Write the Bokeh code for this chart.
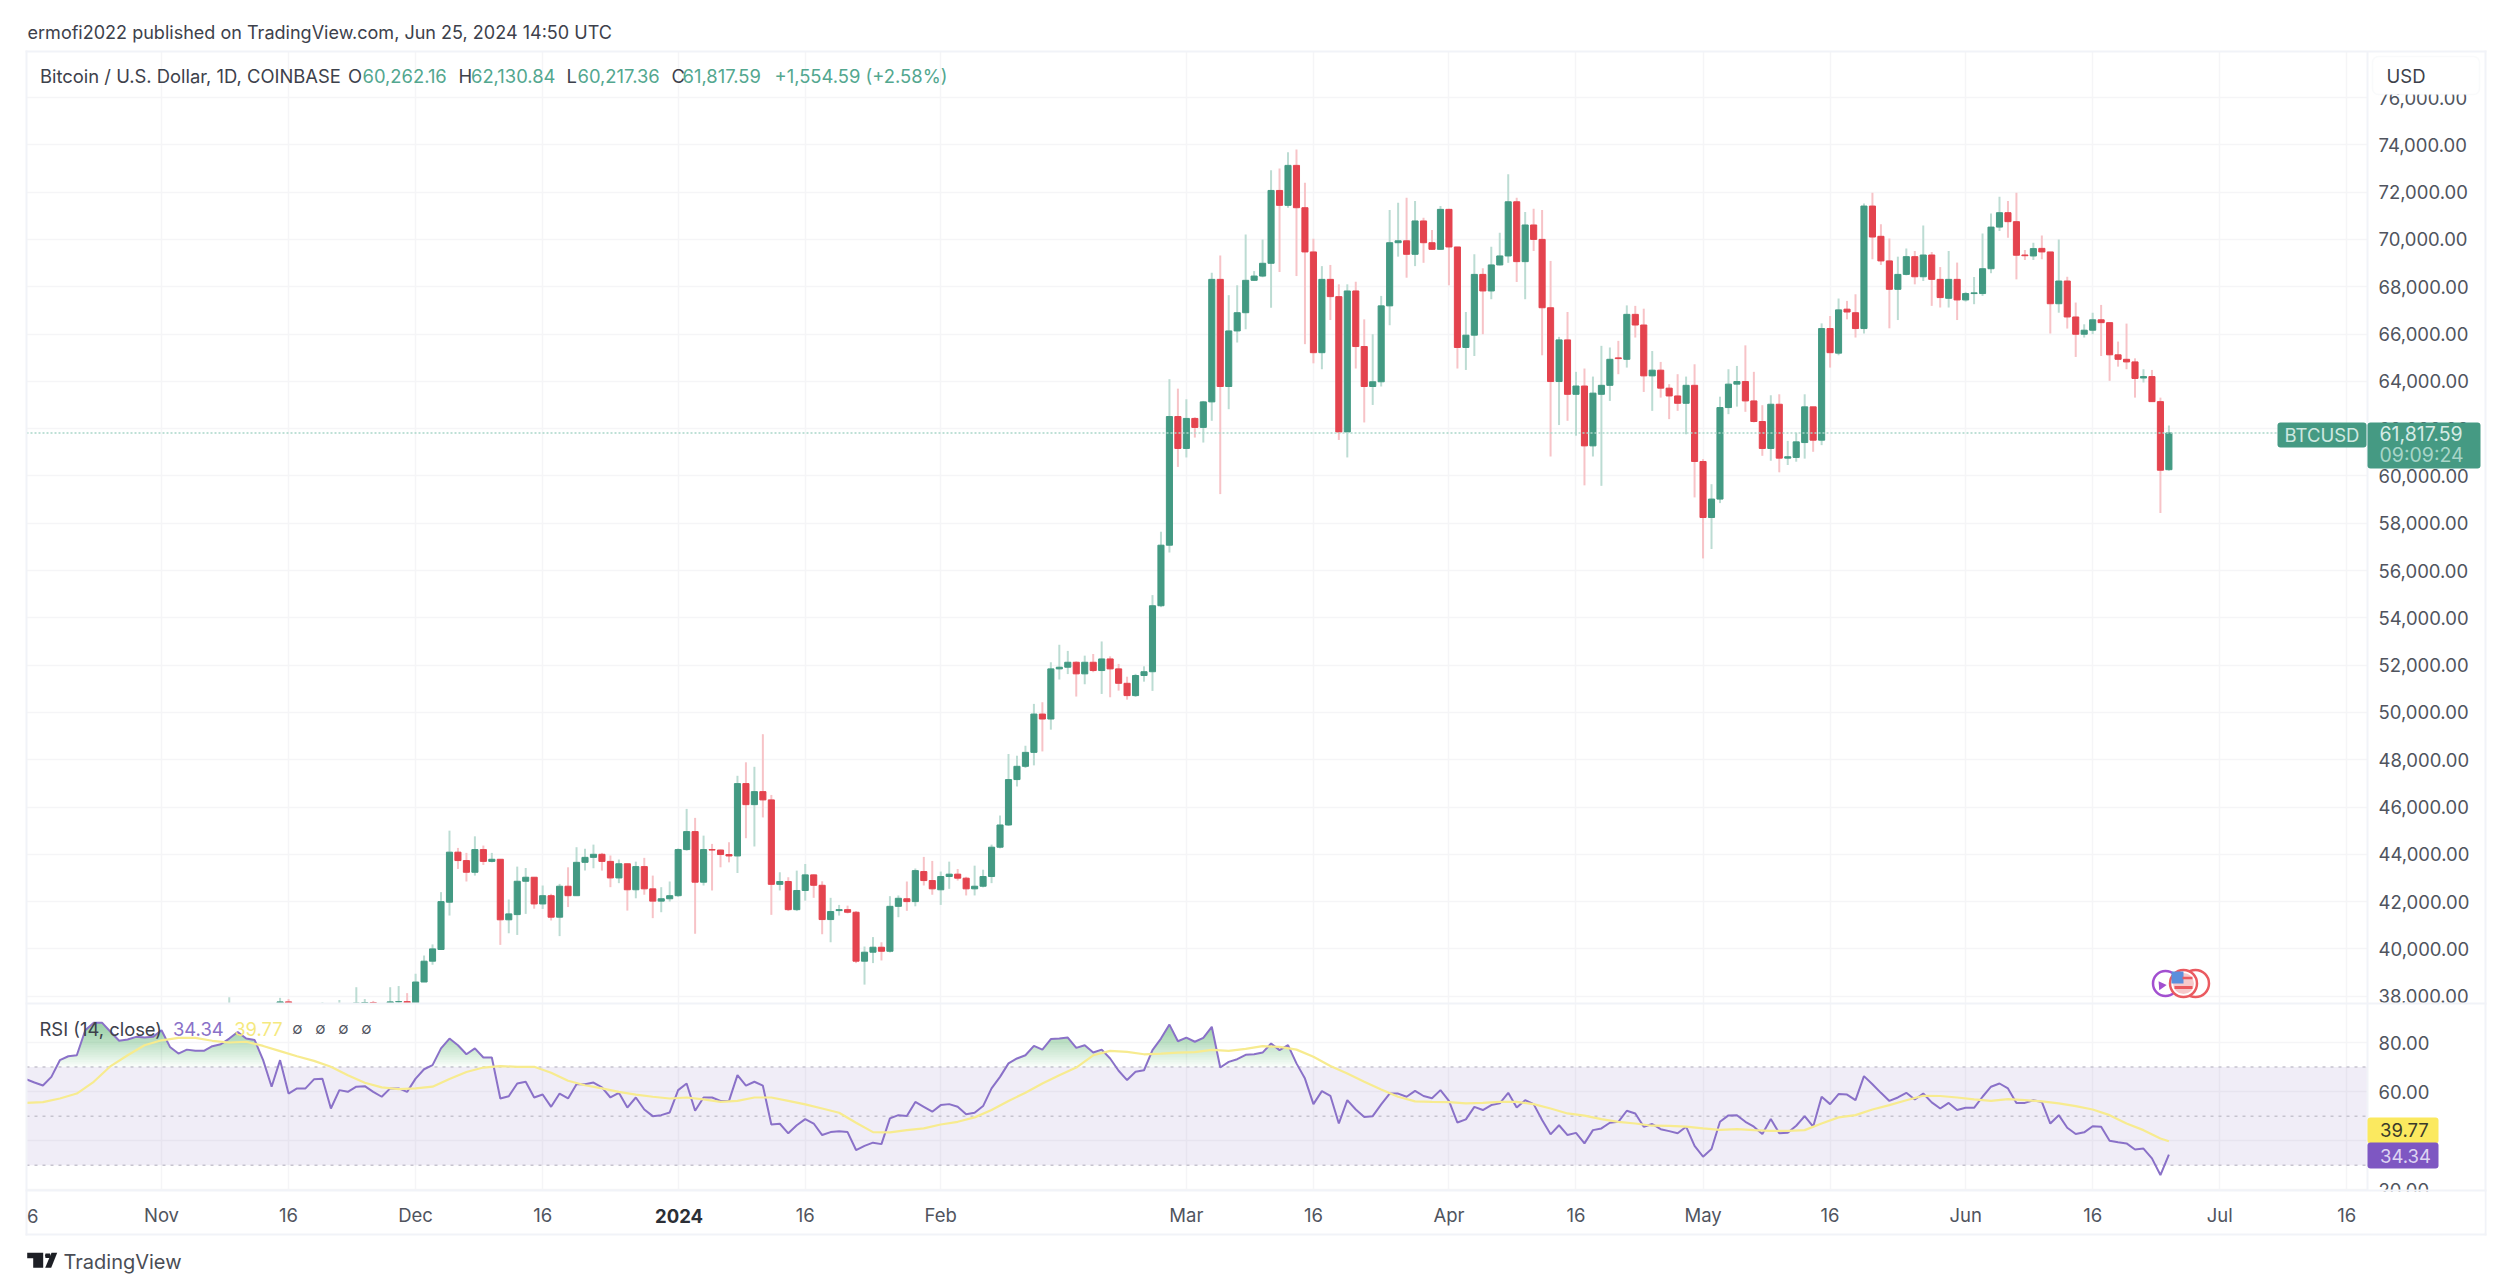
import numpy as np
import pandas as pd
from bokeh.plotting import figure
from bokeh.layouts import column
from bokeh.models import (Range1d, FixedTicker, BoxAnnotation, Label, PolyAnnotation,
                          ColumnDataSource)
from bokeh.embed import file_html
from bokeh.resources import INLINE

# ---------- data ----------
candle_start = "2023-11-09"
nov_o = [35650,36700,37310,37140,37070,36470,35550,37760,36160,36590,36580,37370,37470,35800,37420,37290,37690,37730,37450,37240,37760,37770]
nov_c = [36700,37310,37140,37070,36470,35550,37760,36160,36590,36580,37370,37470,35800,37420,37290,37710,37730,37450,37240,37760,37770,37720]
nov_h = [37960,37520,37400,37230,37400,36750,37930,37880,36800,36830,37500,37740,37640,37840,37650,38380,37880,37800,37600,38380,38430,38130]
nov_l = [35600,36350,36780,36750,36330,35100,35370,35900,35880,36150,36400,36700,35700,35650,36870,37260,37600,37150,36700,36870,37600,37500]

dec_o = [37720,38600,39480,39975,41975,44090,43735,43240,44200,43700,43790,41230,41450,42860,43030,41900,42250,41340,42650,42250,43660,43870,44000,43700,43000,43600,42500,43480,42540,42020,42120]
dec_c = [38600,39480,40000,42000,44090,43735,43240,44200,43700,43790,41230,41480,42860,43030,41900,42250,41340,42650,42250,43660,43870,44000,43700,43000,43600,42500,43480,42540,42020,42120,42250]
dec_h = [38950,39720,40190,42400,45000,44270,44060,44760,44370,44060,43790,42090,43480,43420,43030,42680,42330,42750,43450,44300,44230,44410,44060,43950,43780,43600,43690,43850,43100,42610,42850]
dec_l = [37500,38600,39330,39975,41410,43380,42850,43100,43550,43660,40170,40660,40590,41480,41700,41690,41200,40540,41770,42250,43310,43410,43310,42610,42780,41620,42140,42290,41300,41550,42000]

jan_o = [42250,44200,44960,42820,44200,44180,43990,43930,46990,46100,46650,46300,42730,42850,41660,42470,43130,42690,41240,41620,41660,41550,39480,39860,40070,39900,41800,42120,42000,43270,42890]
jan_c = [44200,44960,42820,44200,44180,43990,43930,46990,46100,46650,46300,42730,42850,41660,42470,43130,42690,41240,41580,41660,41550,39480,39860,40070,39900,41800,42140,42000,43310,42890,42540]
jan_h = [44250,45920,45540,44790,44440,44200,44510,47320,47890,47700,49080,46510,43240,43030,43310,43590,43150,42860,42160,41860,41830,41600,40100,40500,40280,42230,42260,42850,43400,43890,43720]
jan_l = [42200,44150,40640,42680,42470,43450,43660,43210,44680,44330,45560,41440,42470,41600,41600,42040,42160,40620,40280,41410,41500,39400,38490,39400,39510,39850,41340,41610,41800,42680,42290]

feb_o = [42500,43060,43160,42990,42540,42650,43060,44300,45240,47160,47720,48310,49930,49720,51840,51910,52120,51630,52120,51770,52260,51840,51230,50710,51560,51720,54510,57070,62510]
feb_c = [43060,43160,42990,42540,42650,43060,44300,45240,47160,47720,48310,49930,49720,51840,51910,52120,51630,52120,51770,52260,51840,51230,50710,51560,51720,54510,57070,62510,61160]
feb_h = [43270,43690,43380,43050,43520,43350,44410,45640,48240,48170,48590,50360,50430,52120,52860,52600,52160,52400,52470,53000,52370,52050,51510,51630,51950,54960,57640,64090,63690]
feb_l = [41860,42540,42890,42260,42260,42600,42780,44250,45200,46870,47650,47760,48350,49270,51390,51620,50670,51190,51700,50780,50640,50920,50540,50650,51300,50910,54450,56760,60380]

mar_o = [61160,62430,62050,63130,68310,63780,66130,66900,68270,68450,68990,72070,71440,73130,71340,69470,65210,68310,67580,61860,67820,65470,63780,63980,67190,69860,69940,69370,70780,69860,69580]
mar_c = [62430,62050,63130,68310,63780,66130,66900,68270,68450,68990,72070,71440,73130,71340,69470,65210,68310,67580,61860,67820,65470,63780,63980,67190,69860,69940,69370,70780,69860,69580,71270]
mar_h = [63240,62480,63170,68590,69320,67640,68060,70210,68660,70000,72920,73000,73690,73800,72400,70030,68870,68920,68100,68100,68210,66620,65990,67610,71240,71550,71760,71620,70920,70400,71410]
mar_l = [60780,61620,61410,62330,59230,62820,65640,66200,68240,68400,67110,68620,71340,68450,65570,64760,64510,66590,61520,60780,64540,62260,63000,63780,66370,69270,68380,68870,69010,69550,69550]

apr_o = [71270,69680,65430,65950,68520,67820,68920,69300,71590,69060,70610,70000,67110,63990,65750,63450,63800,61270,63450,63830,64990,64930,66830,66380,64230,64470,63710,63380,63070,63830]
apr_c = [69680,65430,65950,68520,67820,68920,69300,71590,69060,70610,70000,67110,63990,65750,63450,63800,61270,63500,63830,64930,64960,66830,66380,64230,64470,63710,63380,63070,63830,60610]
apr_h = [71300,69680,66930,69370,68780,69690,70280,72760,71760,71160,71300,71240,69090,65880,66930,64400,64540,64200,65500,65430,65710,67210,67190,67070,65280,64820,63880,64300,64200,64720]
apr_l = [68060,64540,64480,65070,65990,67470,68900,69010,68200,67470,69510,65100,60820,62150,62330,61700,59600,60820,59580,63170,64300,64580,65850,63550,62750,63310,62400,62750,61760,59090]

may_o = [60610,58240,59020,62890,63880,63990,63170,62300,61160,63030,60750,60780,61410,62920,61510,66230,65190,67050,66900,66230,71410,70130,69090,67890,68520,69270,68420,69340,68310,67510,68310]
may_c = [58240,59020,62890,63880,63990,63170,62300,61160,63030,60750,60810,61440,62920,61510,66230,65210,67020,66930,66230,71410,70100,69090,67890,68520,69270,68420,69340,68310,67540,68310,67440]
may_h = [60710,59650,63350,64510,64650,65520,64400,62990,63410,63450,61480,61830,63450,62920,66450,66760,67500,67400,67680,71520,71970,70640,70040,69270,69610,69510,70590,69470,68830,69510,69020]
may_l = [56510,56910,58850,62610,62930,62710,62260,60850,60640,60150,60460,60600,60730,61020,61300,64580,65100,66620,65850,66020,69160,68920,66240,66590,68480,68100,68240,67190,67120,67120,66590]

jun_o = [67440,67710,67710,68760,70520,71130,70750,69340,69300,69620,69470,67280,68240,66720,65990,66160,66600,66480,65120,64930,64820,64140,64200,63140,60262.16]
jun_c = [67710,67740,68760,70520,71130,70750,69330,69310,69610,69470,67280,68240,66720,65990,66160,66600,66480,65120,64930,64820,64120,64200,63140,60240,61817.59]
jun_h = [67780,68410,70250,71100,71800,71620,71970,69550,69860,70170,69470,70000,68420,67330,66410,66900,67230,66480,65680,66440,64970,64510,64480,63310,62130.84]
jun_l = [67370,67260,67610,68570,70350,70070,68310,69130,69130,69160,66020,66900,66230,65030,65850,65990,65070,64020,64620,64510,63310,63950,63140,58430,60217.36]

rsi_start = "2023-10-16"
rsi_values = [
65.1,63.7,62.5,66.0,72.8,74.4,74.8,85.0,88.0,88.0,84.3,80.7,81.2,82.3,82.0,82.3,
85.0,78.2,75.5,77.1,76.6,76.6,78.5,79.3,81.6,84.3,81.6,81.0,72.8,62.0,72.8,59.2,61.3,61.3,65.0,65.2,53.1,60.6,59.9,62.0,62.2,59.9,57.9,61.3,61.3,59.9,
65.3,69.1,70.8,77.6,81.6,78.9,75.2,77.6,73.9,73.9,57.2,58.1,63.3,64.0,57.6,58.8,53.8,59.2,57.2,63.0,63.0,63.7,61.7,57.6,59.5,53.5,57.6,52.7,50.0,50.4,51.5,
60.6,63.3,52.2,57.6,57.6,56.2,56.2,66.7,62.4,64.0,62.4,46.6,46.9,43.0,46.3,
48.8,47.0,42.3,43.5,43.8,43.5,36.2,37.9,39.2,38.6,49.1,50.4,50.1,55.8,53.8,51.8,
54.5,54.9,53.8,50.8,51.4,54.1,61.3,66.0,71.5,73.5,74.8,78.6,77.1,81.4,81.6,82.0,77.8,78.9,75.9,77.1,73.5,68.5,64.7,68.1,68.7,76.9,81.6,87.3,
80.5,82.0,80.3,81.9,86.4,69.8,72.1,73.2,75.0,75.2,75.9,79.6,76.9,78.9,71.5,65.3,54.9,60.2,58.3,47.0,56.5,52.7,49.7,50.0,54.8,59.2,59.2,57.9,60.3,58.2,57.3,
60.6,56.2,47.4,48.7,53.8,52.5,54.5,55.2,59.5,53.5,56.5,54.9,48.4,42.6,46.3,42.3,43.2,38.9,44.3,
45.0,47.3,47.7,52.2,51.1,45.7,46.8,44.7,43.9,43.0,45.7,
37.9,33.5,36.6,47.7,50.3,50.4,47.7,45.7,42.7,48.8,43.0,43.2,46.1,50.0,45.7,57.9,54.9,59.0,58.8,56.5,66.3,63.0,59.5,56.2,57.6,59.5,56.8,59.2,55.6,53.1,55.4,
52.5,53.4,53.4,57.9,62.0,63.3,61.3,55.4,55.4,56.5,55.8,47.0,50.4,45.3,42.7,43.4,45.9,45.7,40.0,39.4,38.9,36.4,36.8,32.8,26.0,34.34]

# RSI moving average, read every second day from the start date, plus the final day
ma_values = [
55.4,55.7,57.2,59.2,64.0,70.4,74.8,78.9,80.9,81.9,81.9,80.7,80.0,80.3,78.6,76.5,74.4,72.5,70.1,66.7,63.6,61.7,61.0,61.3,62.0,65.1,68.0,69.8,70.4,70.1,70.1,
67.7,64.4,62.6,61.3,59.9,58.8,57.9,57.2,57.6,56.8,55.8,56.2,57.6,57.6,56.2,
54.8,53.1,51.4,47.3,43.5,43.4,44.3,45.0,46.6,47.7,49.5,52.5,56.2,59.5,63.3,66.7,69.8,74.8,76.6,76.2,75.2,75.5,75.9,76.1,77.0,76.6,77.4,78.5,78.2,77.1,74.2,70.4,
67.4,64.0,60.9,57.9,56.0,55.8,55.7,55.2,55.4,55.8,55.8,54.9,53.1,51.1,50.2,48.8,47.7,47.0,46.1,46.0,45.7,45.0,44.4,44.7,44.3,44.0,44.0,44.3,47.0,49.5,50.4,
52.7,54.5,56.5,58.3,58.2,57.6,56.8,56.2,56.9,56.5,56.0,55.2,54.1,52.7,50.4,47.0,44.3,40.9,39.77]

price_ticks = [38000,40000,42000,44000,46000,48000,50000,52000,54000,56000,58000,60000,62000,64000,66000,68000,70000,72000,74000,76000]
rsi_ticks = [20,40,60,80]
rsi_levels = [70,50,30]
date_ticks = ["2023-11-01","2023-11-16","2023-12-01","2023-12-16","2024-01-01","2024-01-16","2024-02-01",
              "2024-03-01","2024-03-16","2024-04-01","2024-04-16","2024-05-01","2024-05-16","2024-06-01",
              "2024-06-16","2024-07-01","2024-07-16"]
date_labels = ["Nov","16","Dec","16","2024","16","Feb","Mar","16","Apr","16","May","16","Jun","16","Jul","16"]

last_close = 61817.59
rsi_last, ma_last = 34.34, 39.77

opens = nov_o+dec_o+jan_o+feb_o+mar_o+apr_o+may_o+jun_o
closes = nov_c+dec_c+jan_c+feb_c+mar_c+apr_c+may_c+jun_c
highs = nov_h+dec_h+jan_h+feb_h+mar_h+apr_h+may_h+jun_h
lows = nov_l+dec_l+jan_l+feb_l+mar_l+apr_l+may_l+jun_l
assert len(opens) == len(closes) == len(highs) == len(lows) == 230
assert len(rsi_values) == 254
assert len(ma_values) == 128

# ---------- styling ----------
FONT = "Inter"
GREEN, RED = "#439a83", "#e4434e"
GREEN_WICK, RED_WICK = "#bcdcd3", "#f7c3c7"
GRID = "#f5f5f7"
BORDER = "#f1f3f8"
TXT = "#50545e"
DARK = "#3d414b"
GTXT = "#53a78f"
PURPLE, YELLOW = "#8a71c8", "#f7eb8f"

# page-pixel geometry of the panes
PAGE_W, PAGE_H = 2500, 1280
LEFT, RIGHT = 26, 2367
TOP, SPLIT, BOT = 51, 1003, 1190
EDGE = 2485
PX_PER_DAY = 8.47
X0_PX = 161              # page x of 1 Nov 2023
P_PX = 2000/47.3         # dollars per pixel
def price_at(py): return 74000 - (py-144.3)*P_PX
RSI_PX = 20/49.1         # rsi units per pixel
def rsi_at(py): return 80 - (py-1042)*RSI_PX

origin = pd.Timestamp("2023-11-01")
def day(d): return (pd.Timestamp(d)-origin).days
def day_at(px): return (px-X0_PX)/PX_PER_DAY

x_range = Range1d(day_at(LEFT), day_at(RIGHT))
xticks = [day(d) for d in date_ticks]

def axis_style(ax):
    ax.axis_line_color = None
    ax.major_tick_line_color = None
    ax.minor_tick_line_color = None
    ax.major_label_text_font = FONT
    ax.major_label_text_color = TXT
    ax.major_label_text_font_size = "18.5px"

# ---------- price pane ----------
p = figure(width=PAGE_W, height=SPLIT, x_range=x_range,
           y_range=Range1d(price_at(SPLIT), price_at(TOP)),
           x_axis_location=None, y_axis_location="right", frame_align=False,
           min_border_left=LEFT, min_border_right=PAGE_W-RIGHT, min_border_top=TOP, min_border_bottom=0,
           toolbar_location=None, output_backend="svg", outline_line_color=None,
           background_fill_color="white", border_fill_color="white")
axis_style(p.yaxis[0])
p.yaxis[0].ticker = FixedTicker(ticks=price_ticks)
p.yaxis[0].major_label_overrides = {t: f"{t:,.2f}" for t in price_ticks}
p.yaxis[0].major_label_standoff = 5
p.ygrid[0].grid_line_color = GRID
p.ygrid[0].grid_line_width = 1.5
p.xgrid[0].ticker = FixedTicker(ticks=xticks)
p.xgrid[0].grid_line_color = GRID
p.xgrid[0].grid_line_width = 1.5

cd = pd.date_range(candle_start, periods=len(opens))
cx = np.array([(d-origin).days for d in cd])
o, c = np.array(opens, float), np.array(closes, float)
up = c >= o
src = ColumnDataSource(dict(x=cx, o=o, c=c, h=highs, l=lows,
                            col=[GREEN if u else RED for u in up],
                            wick=[GREEN_WICK if u else RED_WICK for u in up]))
p.segment("x", "l", "x", "h", source=src, line_color="wick", line_width=2)
p.vbar("x", 0.72, "o", "c", source=src, fill_color="col", line_color="col", line_width=1)

# dotted last-price line, from the pane's left edge to the BTCUSD tag
p.line([day_at(LEFT), day_at(2277)], [last_close, last_close], line_color="#a9d6c9", line_width=1.5, line_dash="2 2")

# event icons at the last candles
icon_y = price_at(983)
p.scatter([day_at(2165)], [icon_y], size=25, marker="circle", fill_color="white", line_color="#a24fd0", line_width=2.5)
p.scatter([day_at(2161)], [price_at(985)], size=9, marker="triangle", fill_color="#a24fd0", line_color=None, angle=0.6)
p.scatter([day_at(2195)], [icon_y], size=27, marker="circle", fill_color="white", line_color="#ea5a60", line_width=2.5)
p.scatter([day_at(2183)], [icon_y], size=27, marker="circle", fill_color="white", line_color="#ea5a60", line_width=2.5)
p.scatter([day_at(2183)], [icon_y], size=21, marker="circle", fill_color="#f7c9cb", line_color=None)
p.scatter([day_at(2177)], [price_at(977)], size=12, marker="square", fill_color="#5b8fdc", line_color=None)
p.scatter([day_at(2187)], [price_at(977.5)], size=10, marker="dash", line_color="#ea5a60", line_width=2.5)
p.scatter([day_at(2183)], [price_at(987)], size=18, marker="dash", line_color="#ea5a60", line_width=3)

# ---------- RSI pane ----------
r = figure(width=PAGE_W, height=PAGE_H-SPLIT, x_range=x_range,
           y_range=Range1d(rsi_at(BOT), rsi_at(SPLIT)),
           x_axis_location="below", y_axis_location="right", frame_align=False,
           min_border_left=LEFT, min_border_right=PAGE_W-RIGHT, min_border_top=0, min_border_bottom=PAGE_H-BOT,
           toolbar_location=None, output_backend="svg", outline_line_color=None,
           background_fill_color="white", border_fill_color="white")
axis_style(r.yaxis[0]); axis_style(r.xaxis[0])
r.yaxis[0].ticker = FixedTicker(ticks=rsi_ticks)
r.yaxis[0].major_label_overrides = {t: f"{t:.2f}" for t in rsi_ticks}
r.yaxis[0].major_label_standoff = 5
r.xaxis[0].ticker = FixedTicker(ticks=xticks)
r.xaxis[0].major_label_overrides = {t: ("" if s == "2024" else s) for t, s in zip(xticks, date_labels)}
r.xaxis[0].major_label_standoff = 7
r.ygrid[0].grid_line_color = GRID; r.ygrid[0].grid_line_width = 1.5
r.xgrid[0].grid_line_color = GRID; r.xgrid[0].grid_line_width = 1.5

r.add_layout(BoxAnnotation(top=rsi_levels[0], bottom=rsi_levels[2], fill_color="#7458b8", fill_alpha=0.11,
                           line_color=None, level="underlay"))
for lv in rsi_levels:
    r.line([day_at(LEFT), day_at(RIGHT)], [lv, lv], line_color="#c6c4cf", line_width=1.5, line_dash="3 5")

rx = np.array([day(rsi_start)+i for i in range(len(rsi_values))], float)
ma_x = np.array([day(rsi_start)+2*i for i in range(len(ma_values)-1)]+[day(rsi_start)+len(rsi_values)-1], float)

# overbought gradient built from stacked translucent layers
dense = np.arange(rx[0], rx[-1], 0.05)
rd = np.interp(dense, rx, rsi_values)
for lv in np.arange(70, 89, 1.0):
    r.varea(dense, y1=np.full_like(dense, lv), y2=np.maximum(rd, lv), fill_color="#2f9c50", fill_alpha=0.035)

r.line(rx, rsi_values, line_color=PURPLE, line_width=2)
r.line(ma_x, ma_values, line_color=YELLOW, line_width=2.2)

# ---------- transparent page-sized overlay for everything outside the frames ----------
ov = figure(width=PAGE_W, height=PAGE_H, x_range=Range1d(0, PAGE_W), y_range=Range1d(PAGE_H, 0),
            x_axis_location=None, y_axis_location=None, frame_align=False,
            min_border=0, min_border_left=0, min_border_right=0, min_border_top=0, min_border_bottom=0,
            toolbar_location=None, output_backend="svg", outline_line_color=None,
            background_fill_color=None, border_fill_color=None,
            styles={"position": "absolute", "left": "0px", "top": "0px"})
ov.grid.visible = False

def lab(px, py, text, size=18, color=TXT, align="left", style="normal"):
    ov.add_layout(Label(x=px, y=py, text=text, text_font=FONT, text_font_size=f"{size}px", text_color=color,
                        text_align=align, text_baseline="middle", text_font_style=style))
def box(x0, x1, y0, y1, color, radius=0, line=None):
    ov.add_layout(BoxAnnotation(left=x0, right=x1, top=y0, bottom=y1, fill_color=color, fill_alpha=1,
                                line_color=line, line_width=1.5 if line else 0, border_radius=radius))
def poly(pts, color):
    ov.add_layout(PolyAnnotation(xs=[a for a, b in pts], ys=[b for a, b in pts],
                                 fill_color=color, fill_alpha=1, line_color=None))

# borders
box(LEFT-1, EDGE+1, TOP-1, TOP+1, BORDER)
box(LEFT-1, LEFT+1, TOP-1, BOT+45, BORDER)
box(EDGE-1, EDGE+1, TOP-1, BOT+45, BORDER)
box(RIGHT-1, RIGHT+1, TOP, BOT, BORDER)
box(LEFT-1, EDGE+1, SPLIT-1, SPLIT+1, BORDER)
box(RIGHT+1, EDGE-1, BOT+1, BOT+42, "white")   # clips the lowest tick label
box(LEFT-1, EDGE+1, BOT-1, BOT+1, BORDER)
box(LEFT-1, EDGE+1, BOT+43, BOT+45, BORDER)

# header
LEG = 18.4
lab(27, 32, "ermofi2022 published on TradingView.com, Jun 25, 2024 14:50 UTC", 18.05, DARK)
lab(39.5, 75, "Bitcoin / U.S. Dollar, 1D, COINBASE", LEG, DARK)
for lx, vx, n, v in [(347.5, 362, "O", "60,262.16"), (458, 470.5, "H", "62,130.84"),
                     (566, 577, "L", "60,217.36"), (671, 682, "C", "61,817.59")]:
    lab(lx, 75, n, LEG, DARK)
    lab(vx, 75, v, LEG, GTXT)
lab(774, 75, "+1,554.59 (+2.58%)", LEG, GTXT)

# USD box, covers the clipped top tick label
box(2372, 2479, 56, 94, "white", radius=6, line="#ebedf3")
lab(2386, 75, "USD", 18.5, DARK)

# price tags
box(2277, 2366, 422, 447, "#459a83", radius=3)
lab(2284, 434.5, "BTCUSD", 18.5, "#cfe8e0")
box(2367, 2480, 422, 468, "#459a83", radius=3)
lab(2379, 433, "61,817.59", 19.5, "#d5ebe5")
lab(2379, 454, "09:09:24", 19.5, "#a8d5c8")

# RSI legend
lab(39, 1028, "RSI (14, close)", LEG, DARK)
lab(172.5, 1028, f"{rsi_last:.2f}", LEG, "#8a71c8")
lab(233.7, 1028, f"{ma_last:.2f}", LEG, "#f5e97f")
for vx in (297, 320, 343, 366):
    lab(vx, 1028, "∅", 15, TXT, align="center")

box(RIGHT, 2438, 1117, 1143, "#fbe95f", radius=3)
box(RIGHT, 2438, 1142, 1168, "#7e57c2", radius=3)
lab(2379.5, 1129.5, f"{ma_last:.2f}", 18.5, "#3a3a2a")
lab(2379.5, 1155, f"{rsi_last:.2f}", 18.5, "#ddd3f2")

lab(678.5, 1215, "2024", 18.5, "#2c2f36", align="center", style="bold")
lab(26.5, 1215, "6", 18.5, TXT)

# TradingView logo
poly([(26.7,1252.3),(42.7,1252.3),(42.7,1267.3),(32.7,1267.3),(32.7,1257.7),(26.7,1257.7)], "#1d1f25")
poly([(45,1253),(49.5,1253),(50,1255),(49.5,1257.5),(45,1257.5),(44.5,1255)], "#1d1f25")
poly([(51,1252.3),(56.7,1252.3),(50.7,1267.3),(44.7,1267.3)], "#1d1f25")
lab(63, 1261, "TradingView", 20, "#4a4d55")

layout = column(p, r, ov, spacing=0)
open("out.html", "w").write(file_html(layout, INLINE))
